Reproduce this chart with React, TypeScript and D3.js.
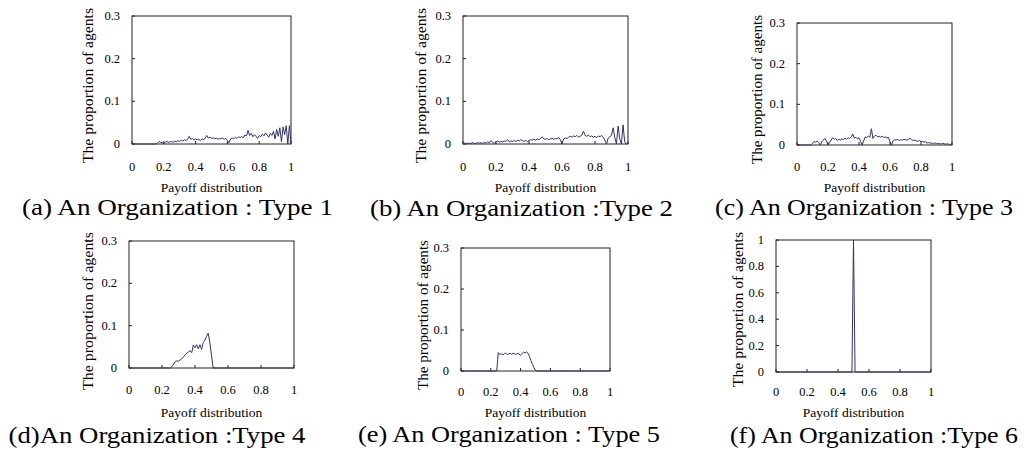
import React from "react";
import * as d3 from "d3";

// Payoff levels on the horizontal axis (0.00 … 1.00 in steps of 0.01)
const payoffLevels = d3.range(0, 101).map((i) => i / 100);

const xTickValues = [0, 0.2, 0.4, 0.6, 0.8, 1];
const xTickLabels = ["0", "0.2", "0.4", "0.6", "0.8", "1"];
const yTickValuesSmall = [0, 0.1, 0.2, 0.3];
const yTickLabelsSmall = ["0", "0.1", "0.2", "0.3"];
const yTickValuesFull = [0, 0.2, 0.4, 0.6, 0.8, 1];
const yTickLabelsFull = ["0", "0.2", "0.4", "0.6", "0.8", "1"];

const captions = [
  "(a) An Organization : Type 1",
  "(b) An Organization :Type 2",
  "(c) An Organization : Type 3",
  "(d)An Organization :Type 4",
  "(e) An Organization : Type 5",
  "(f) An Organization :Type 6",
];

// Proportion of agents at each payoff level, one array per organization type
const type1 = [
  0, 0, 0, 0, 0, 0, 0, 0, 0, 0,
  0, 0, 0, 0, 0, 0, 0.002, 0.006, 0.004, 0.003,
  0.002, 0.004, 0.006, 0.004, 0.005, 0.006, 0.004, 0.007, 0.005, 0.008,
  0.006, 0.009, 0.007, 0.01, 0.008, 0.012, 0.018, 0.011, 0.013, 0.009,
  0.012, 0.01, 0.011, 0.008, 0.012, 0.01, 0.013, 0.02, 0.014, 0.016,
  0.013, 0.015, 0.012, 0.014, 0.011, 0.013, 0.012, 0.014, 0.011, 0.013,
  0.008, 0.003, 0.012, 0.014, 0.012, 0.016, 0.013, 0.017, 0.015, 0.018,
  0.014, 0.021, 0.019, 0.032, 0.02, 0.025, 0.017, 0.022, 0.018, 0.013,
  0.02, 0.017, 0.023, 0.019, 0.026, 0.021, 0.016, 0.025, 0.02, 0.03,
  0.012, 0.034, 0.018, 0.038, 0.005, 0.04, 0.022, 0.043, 0.0, 0.043,
  0.002,
];

const type2 = [
  0.001, 0.002, 0.001, 0.002, 0.001, 0.002, 0.003, 0.001, 0.002, 0.003,
  0.002, 0.003, 0.001, 0.004, 0.002, 0.005, 0.003, 0.008, 0.004, 0.002,
  0.005, 0.007, 0.004, 0.006, 0.005, 0.007, 0.006, 0.01, 0.005, 0.007,
  0.006, 0.008, 0.006, 0.009, 0.007, 0.01, 0.008, 0.006, 0.009, 0.005,
  0.008, 0.01, 0.009, 0.011, 0.009, 0.012, 0.01, 0.013, 0.017, 0.012,
  0.011, 0.013, 0.01, 0.012, 0.014, 0.011, 0.013, 0.012, 0.015, 0.01,
  0.0, 0.012, 0.014, 0.013, 0.016, 0.018, 0.016, 0.019, 0.017, 0.02,
  0.016, 0.018, 0.021, 0.03, 0.02, 0.018, 0.021, 0.017, 0.019, 0.016,
  0.018, 0.015, 0.019, 0.017, 0.02, 0.016, 0.009, 0.0, 0.014, 0.017,
  0.02, 0.038, 0.015, 0.0, 0.042, 0.012, 0.0, 0.045, 0.005, 0.0,
  0.002,
];

const type3 = [
  0, 0, 0, 0, 0, 0, 0, 0, 0, 0,
  0.004, 0.009, 0.007, 0.01, 0.006, 0.0, 0.008, 0.012, 0.016, 0.01,
  0.0, 0.006, 0.012, 0.018, 0.014, 0.016, 0.011, 0.014, 0.012, 0.015,
  0.013, 0.017, 0.014, 0.018, 0.016, 0.02, 0.027, 0.017, 0.019, 0.015,
  0.018, 0.009, 0.0, 0.01, 0.02, 0.018, 0.022, 0.019, 0.04, 0.016,
  0.022, 0.024, 0.02, 0.021, 0.019, 0.022, 0.018, 0.02, 0.017, 0.019,
  0.008, 0.0, 0.011, 0.013, 0.012, 0.014, 0.011, 0.013, 0.012, 0.014,
  0.013, 0.012, 0.014, 0.016, 0.013, 0.011, 0.012, 0.01, 0.009, 0.011,
  0.008, 0.009, 0.007, 0.008, 0.005, 0.006, 0.004, 0.005, 0.003, 0.005,
  0.004, 0.003, 0.004, 0.002, 0.004, 0.003, 0.002, 0.003, 0.002, 0.001,
  0.002,
];

const type4 = [
  0, 0, 0, 0, 0, 0, 0, 0, 0, 0,
  0, 0, 0, 0, 0, 0, 0, 0, 0, 0,
  0, 0, 0, 0, 0, 0, 0.003, 0.009, 0.015, 0.017,
  0.016, 0.019, 0.022, 0.026, 0.031, 0.035, 0.038, 0.041, 0.036, 0.054,
  0.048, 0.055, 0.045, 0.055, 0.044, 0.06, 0.066, 0.075, 0.082, 0.06,
  0.03, 0, 0, 0, 0, 0, 0, 0, 0, 0,
  0, 0, 0, 0, 0, 0, 0, 0, 0, 0,
  0, 0, 0, 0, 0, 0, 0, 0, 0, 0,
  0, 0, 0, 0, 0, 0, 0, 0, 0, 0,
  0, 0, 0, 0, 0, 0, 0, 0, 0, 0,
  0,
];

const type5 = [
  0, 0, 0, 0, 0, 0, 0, 0, 0, 0,
  0, 0, 0, 0, 0, 0, 0, 0, 0, 0,
  0, 0, 0, 0, 0, 0.045, 0.04, 0.043, 0.039, 0.042,
  0.044, 0.04, 0.042, 0.043, 0.041, 0.043, 0.042, 0.04, 0.044, 0.041,
  0.038, 0.043, 0.046, 0.044, 0.047, 0.042, 0.035, 0.025, 0.016, 0.008,
  0.002, 0, 0, 0, 0, 0, 0, 0, 0, 0,
  0, 0, 0, 0, 0, 0, 0, 0, 0, 0,
  0, 0, 0, 0, 0, 0, 0, 0, 0, 0,
  0, 0, 0, 0, 0, 0, 0, 0, 0, 0,
  0, 0, 0, 0, 0, 0, 0, 0, 0, 0,
  0,
];

const type6 = [
  0, 0, 0, 0, 0, 0, 0, 0, 0, 0,
  0, 0, 0, 0, 0, 0, 0, 0, 0, 0,
  0, 0, 0, 0, 0, 0, 0, 0, 0, 0,
  0, 0, 0, 0, 0, 0, 0, 0, 0, 0,
  0, 0, 0, 0, 0, 0, 0, 0, 0, 0,
  1, 0, 0, 0, 0, 0, 0, 0, 0, 0,
  0, 0, 0, 0, 0, 0, 0, 0, 0, 0,
  0, 0, 0, 0, 0, 0, 0, 0, 0, 0,
  0, 0, 0, 0, 0, 0, 0, 0, 0, 0,
  0, 0, 0, 0, 0, 0, 0, 0, 0, 0,
  0,
];

const seriesByPanel = [type1, type2, type3, type4, type5, type6];

// Panel geometry: plot frame, label positions and text extents
const panels = [
  { x0: 132, y0: 16, x1: 291, y1: 144, yLabelX: 88, yLabelY: 85.5, yLabelLen: 155, tickY: 167, titleY: 187, capX: 177.5, capY: 207, capLen: 311, full: false },
  { x0: 463, y0: 16, x1: 628, y1: 144, yLabelX: 421, yLabelY: 85.5, yLabelLen: 155, tickY: 167, titleY: 187, capX: 521.5, capY: 208, capLen: 303, full: false },
  { x0: 797, y0: 23, x1: 952, y1: 145, yLabelX: 757, yLabelY: 89.5, yLabelLen: 149, tickY: 167, titleY: 187, capX: 864, capY: 207, capLen: 298, full: false },
  { x0: 129, y0: 241, x1: 294, y1: 368, yLabelX: 88, yLabelY: 311, yLabelLen: 158, tickY: 390, titleY: 412, capX: 157, capY: 435, capLen: 297, full: false },
  { x0: 461, y0: 248, x1: 610, y1: 371, yLabelX: 423, yLabelY: 315, yLabelLen: 150, tickY: 392, titleY: 412, capX: 509, capY: 434, capLen: 302, full: false },
  { x0: 776, y0: 240, x1: 931, y1: 372, yLabelX: 738, yLabelY: 309.5, yLabelLen: 155, tickY: 392, titleY: 412, capX: 874, capY: 435, capLen: 288, full: true },
];

const FONT = "'Liberation Serif', 'Times New Roman', serif";
const LINE_COLOR = "#35316e";
const FRAME_COLOR = "#222";

function Panel({ idx }: { idx: number }) {
  const p = panels[idx];
  const values = seriesByPanel[idx];
  const yTicks = p.full ? yTickValuesFull : yTickValuesSmall;
  const yLabels = p.full ? yTickLabelsFull : yTickLabelsSmall;
  const x = d3.scaleLinear().domain([0, 1]).range([p.x0, p.x1]);
  const y = d3.scaleLinear().domain([0, p.full ? 1 : 0.3]).range([p.y1, p.y0]);
  const line = d3
    .line<number>()
    .x((_, i) => x(payoffLevels[i]))
    .y((d) => y(d));

  return (
    <g>
      <rect
        x={p.x0}
        y={p.y0}
        width={p.x1 - p.x0}
        height={p.y1 - p.y0}
        fill="#fff"
        stroke={FRAME_COLOR}
        strokeWidth={1}
      />
      {xTickValues.map((t) => (
        <line key={"xt" + t} x1={x(t)} x2={x(t)} y1={p.y1} y2={p.y1 - 3} stroke={FRAME_COLOR} />
      ))}
      {yTicks.map((t) => (
        <line key={"yt" + t} x1={p.x0} x2={p.x0 + 3} y1={y(t)} y2={y(t)} stroke={FRAME_COLOR} />
      ))}
      <path d={line(values) || ""} fill="none" stroke={LINE_COLOR} strokeWidth={1} />
      {xTickValues.map((t, i) => (
        <text
          key={"xl" + t}
          x={x(t)}
          y={p.tickY}
          textAnchor="middle"
          dominantBaseline="central"
          fontSize={12.5}
          fontFamily={FONT}
          fill="#000"
        >
          {xTickLabels[i]}
        </text>
      ))}
      {yTicks.map((t, i) => (
        <text
          key={"yl" + t}
          x={p.x0 - 12}
          y={y(t)}
          textAnchor="end"
          dominantBaseline="central"
          fontSize={12.5}
          fontFamily={FONT}
          fill="#000"
        >
          {yLabels[i]}
        </text>
      ))}
      <text
        x={(p.x0 + p.x1) / 2}
        y={p.titleY}
        textAnchor="middle"
        dominantBaseline="central"
        fontSize={13.5}
        fontFamily={FONT}
        fill="#000"
      >
        Payoff distribution
      </text>
      <text
        transform={`translate(${p.yLabelX},${p.yLabelY}) rotate(-90)`}
        textAnchor="middle"
        dominantBaseline="central"
        fontSize={14}
        fontFamily={FONT}
        fill="#000"
        textLength={p.yLabelLen}
        lengthAdjust="spacingAndGlyphs"
      >
        The proportion of agents
      </text>
      <text
        x={p.capX}
        y={p.capY}
        textAnchor="middle"
        dominantBaseline="central"
        fontSize={22.5}
        fontFamily={FONT}
        fill="#000"
        textLength={p.capLen}
        lengthAdjust="spacingAndGlyphs"
      >
        {captions[idx]}
      </text>
    </g>
  );
}

export default function App() {
  return (
    <svg
      width={1033}
      height={454}
      style={{ position: "absolute", left: 0, top: 0, background: "#fff" }}
    >
      <rect x={0} y={0} width={1033} height={454} fill="#fff" />
      {panels.map((_, i) => (
        <Panel key={i} idx={i} />
      ))}
    </svg>
  );
}
